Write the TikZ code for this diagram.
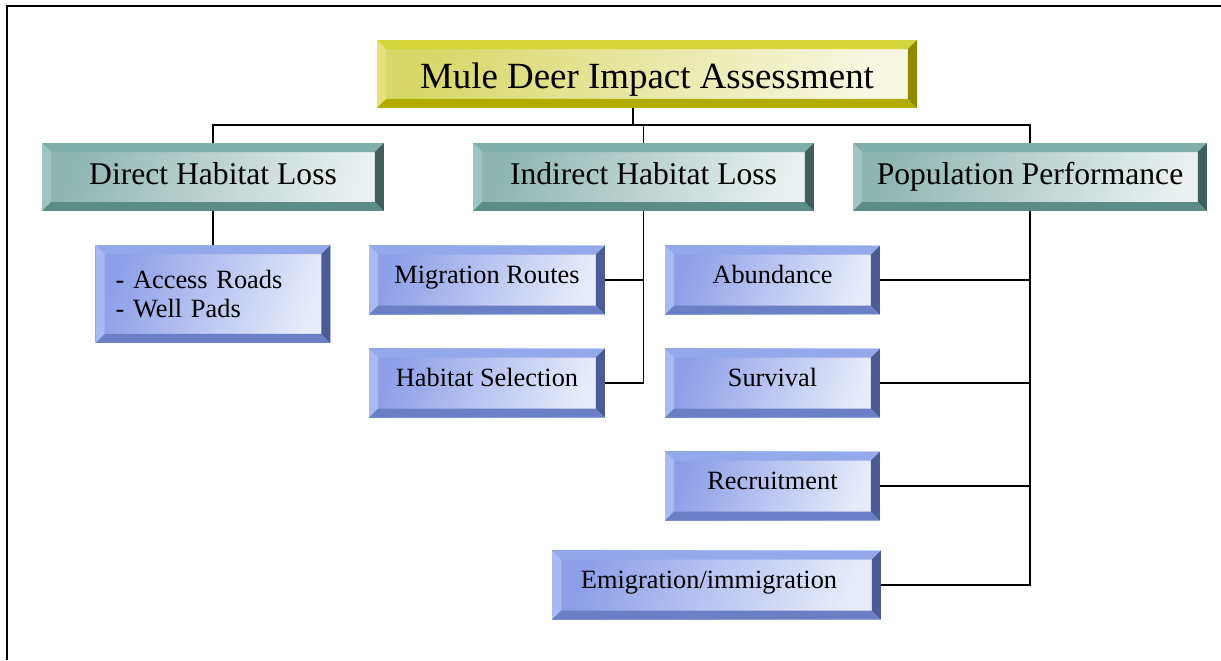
\documentclass[tikz,border=0pt]{standalone}
\usepackage{fontspec}
\setmainfont{Liberation Serif}
\usetikzlibrary{calc}

\definecolor{yeltop}{HTML}{D6D63C}
\definecolor{yelleft}{HTML}{E2E27A}
\definecolor{yelbot}{HTML}{B2AC00}
\definecolor{yelright}{HTML}{8E8A00}
\definecolor{yelface}{HTML}{D8D86A}
\definecolor{seatop}{HTML}{80AEA8}
\definecolor{sealeft}{HTML}{A0C4C0}
\definecolor{seabot}{HTML}{5C8C86}
\definecolor{searight}{HTML}{405F5B}
\definecolor{seaface}{HTML}{8FB6B1}
\definecolor{blutop}{HTML}{93A9EC}
\definecolor{bluleft}{HTML}{A8BAF0}
\definecolor{blubot}{HTML}{6A7FC6}
\definecolor{bluright}{HTML}{4A5B95}
\definecolor{bluface}{HTML}{8C9FE8}

\newcommand\sizea{\fontsize{21}{25}\selectfont}
\newcommand\sizeb{\fontsize{18}{22}\selectfont}
\newcommand\sizec{\fontsize{15}{17}\selectfont}

\begin{document}
\begin{tikzpicture}[x=0.02cm, y=-0.02cm]

      \tikzset{bevel/.style={shape=rectangle, inner sep=0pt, outer sep=0pt,
          left color=#1face, middle color=white, right color=white!80!#1face, shading angle=70,
          path picture={
            \coordinate (nw) at (path picture bounding box.north west);
            \coordinate (ne) at (path picture bounding box.north east);
            \coordinate (sw) at (path picture bounding box.south west);
            \coordinate (se) at (path picture bounding box.south east);
            \fill[#1top] (nw) -- (ne) -- ($(ne)+(-0.18cm,-0.18cm)$) -- ($(nw)+(0.18cm,-0.18cm)$) -- cycle;
            \fill[#1left] (nw) -- (sw) -- ($(sw)+(0.18cm,0.18cm)$) -- ($(nw)+(0.18cm,-0.18cm)$) -- cycle;
            \fill[#1bot] (sw) -- (se) -- ($(se)+(-0.18cm,0.18cm)$) -- ($(sw)+(0.18cm,0.18cm)$) -- cycle;
            \fill[#1right] (ne) -- (se) -- ($(se)+(-0.18cm,0.18cm)$) -- ($(ne)+(-0.18cm,-0.18cm)$) -- cycle;
          }},
        topbox/.style={bevel=yel, minimum width=10.8cm, minimum height=1.36cm, font=\sizea,
          text height=20pt, text depth=4pt},
        areabox/.style={bevel=sea, minimum height=1.36cm, font=\sizeb,
          text height=14pt, text depth=5pt},
        itembox/.style={bevel=blu, minimum height=1.38cm, font=\sizec,
          text height=11pt, text depth=7pt},
        link/.style={draw, line width=1pt}}

      \useasboundingbox (0,0) rectangle (1221,660);
%% Frame
      \draw[line width=1.2pt] (7,660) -- (7,6) -- (1221,6);
%% Boxes
      \node[topbox] (mule) at (647,74) {Mule Deer Impact Assessment};
      \node[areabox, minimum width=6.84cm] (direct) at (213,177) {Direct Habitat Loss};
      \node[areabox, minimum width=6.82cm] (indirect) at (643.5,177) {Indirect Habitat Loss};
      \node[areabox, minimum width=7.08cm] (popul) at (1030,177) {Population Performance};

      \node[itembox, text height=, text depth=, minimum height=1.96cm, inner xsep=0.4cm, text width=3.9cm, align=left] (access) at (213,294) {- Access Roads\\- Well Pads};
      \node[itembox, minimum width=4.72cm] (migr) at (487,280) {Migration Routes};
      \node[itembox, minimum width=4.72cm] (habsel) at (487,383) {Habitat Selection};
      \node[itembox, minimum width=4.3cm] (abund) at (772.5,280) {Abundance};
      \node[itembox, minimum width=4.3cm] (surv) at (772.5,383) {Survival};
      \node[itembox, minimum width=4.3cm] (recr) at (772.5,486) {Recruitment};
      \node[itembox, minimum width=6.58cm] (emig) at (716.5,585) {Emigration/immigration\hspace*{0.3cm}};
%Connectors
      \coordinate (bus) at (633,125);
      \path[link] (mule.south -| bus) -- (bus);
      \path[link] (direct.north) |- (bus) -| (popul.north);
      \path[link] (indirect.north) -- (indirect.north |- bus);
      \path[link] (direct.south) -- (access.north);
      \path[link] (indirect.south) |- (habsel.east);
      \path[link] (migr.east) -- (migr.east -| indirect.south);
      \path[link] (popul.south) |- (emig.east);
      \path[link] (abund.east) -- (abund.east -| popul.south);
      \path[link] (surv.east) -- (surv.east -| popul.south);
      \path[link] (recr.east) -- (recr.east -| popul.south);

\end{tikzpicture}
\end{document}
